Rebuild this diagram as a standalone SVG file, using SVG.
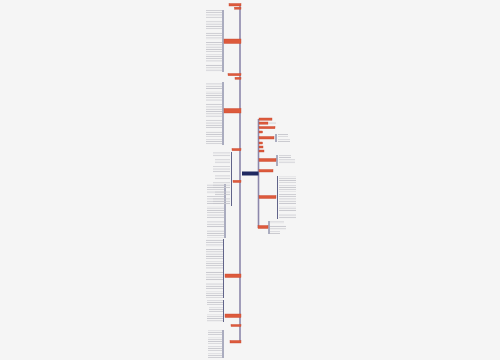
<svg xmlns="http://www.w3.org/2000/svg" width="500" height="360" viewBox="0 0 500 360">
<style>
.trunk{stroke:#8c87ab;stroke-width:1.6;fill:none}
.br{stroke:#3b3f6e;stroke-width:0.8;fill:none}
.n{fill:#dd5a3c;stroke:#c9472d;stroke-width:0.4}
.t{fill:url(#txt)}
</style>
<defs>
<pattern id="txt" width="30" height="2.3" patternUnits="userSpaceOnUse">
<rect x="0" y="0.7" width="30" height="0.8" fill="#c6c6cc"/>
</pattern>
</defs>
<rect width="500" height="360" fill="#f5f5f5"/>
<g id="connectors">
<line class="trunk" x1="240" y1="5" x2="240" y2="343"/>
<line class="trunk" x1="258.5" y1="119" x2="258.5" y2="228"/>
<line class="br" x1="223" y1="10" x2="223" y2="72"/>
<line class="br" x1="223" y1="82" x2="223" y2="145"/>
<line class="br" x1="231.5" y1="152" x2="231.5" y2="206"/>
<line class="br" x1="225" y1="184" x2="225" y2="238"/>
<line class="br" x1="223.5" y1="239" x2="223.5" y2="298"/>
<line class="br" x1="223.5" y1="300" x2="223.5" y2="322"/>
<line class="br" x1="223" y1="330" x2="223" y2="358"/>
<line class="br" x1="276" y1="134" x2="276" y2="142"/>
<line class="br" x1="277" y1="155" x2="277" y2="166"/>
<line class="br" x1="277.5" y1="176" x2="277.5" y2="219"/>
<line class="br" x1="269" y1="221" x2="269" y2="234"/>
</g>
<g id="center"><rect x="242" y="171.5" width="16.5" height="4" fill="#1e2860"/></g>
<g id="L1"><rect class="n" x="229" y="3.5" width="12" height="2.5"/></g>
<g id="L2"><rect class="n" x="234.5" y="7.2" width="6.5" height="2"/></g>
<g id="L3"><rect class="n" x="224" y="39" width="17" height="4.5"/>
<rect class="t" x="206" y="10" width="16" height="8"/><rect class="t" x="206" y="20" width="16" height="10"/><rect class="t" x="206" y="32" width="16" height="8"/><rect class="t" x="206" y="42" width="16" height="10"/><rect class="t" x="206" y="54" width="16" height="8"/><rect class="t" x="206" y="64" width="16" height="8"/></g>
<g id="L4"><rect class="n" x="228" y="73.5" width="13" height="2.2"/></g>
<g id="L5"><rect class="n" x="235" y="77.3" width="6" height="2"/></g>
<g id="L6"><rect class="n" x="224" y="108.5" width="17" height="4.5"/>
<rect class="t" x="206" y="82" width="16" height="7"/><rect class="t" x="206" y="91" width="16" height="10"/><rect class="t" x="206" y="103" width="16" height="14"/><rect class="t" x="206" y="119" width="16" height="10"/><rect class="t" x="206" y="131" width="16" height="6"/><rect class="t" x="206" y="139" width="16" height="6"/></g>
<g id="L7"><rect class="n" x="232" y="148.5" width="9" height="2.2"/>
<rect class="t" x="213" y="152" width="17" height="5"/><rect class="t" x="215" y="159" width="15" height="5"/><rect class="t" x="213" y="166" width="17" height="7"/><rect class="t" x="215" y="175" width="15" height="5"/><rect class="t" x="213" y="182" width="17" height="7"/><rect class="t" x="215" y="191" width="15" height="5"/><rect class="t" x="213" y="198" width="17" height="7"/></g>
<g id="L8"><rect class="n" x="233" y="180.3" width="8" height="2.2"/>
<rect class="t" x="207" y="184" width="17" height="10"/><rect class="t" x="207" y="196" width="17" height="8"/><rect class="t" x="207" y="206" width="17" height="12"/><rect class="t" x="207" y="220" width="17" height="8"/><rect class="t" x="207" y="230" width="17" height="8"/></g>
<g id="L9"><rect class="n" x="225" y="274" width="16" height="3.5"/>
<rect class="t" x="206" y="239" width="17" height="8"/><rect class="t" x="206" y="249" width="17" height="10"/><rect class="t" x="206" y="261" width="17" height="8"/><rect class="t" x="206" y="271" width="17" height="10"/><rect class="t" x="206" y="283" width="17" height="6"/><rect class="t" x="206" y="291" width="17" height="7"/></g>
<g id="L10"><rect class="n" x="225" y="314" width="16" height="3.5"/>
<rect class="t" x="207" y="300" width="16" height="5"/><rect class="t" x="209" y="307" width="14" height="5"/><rect class="t" x="207" y="314" width="16" height="8"/></g>
<g id="L11"><rect class="n" x="231" y="324.5" width="10" height="2"/></g>
<g id="L12"><rect class="n" x="230" y="340.5" width="11" height="2.5"/>
<rect class="t" x="208" y="330" width="14" height="5"/><rect class="t" x="208" y="337" width="14" height="7"/><rect class="t" x="208" y="346" width="14" height="5"/><rect class="t" x="208" y="353" width="14" height="5"/></g>
<g id="R1"><rect class="n" x="259" y="118" width="13" height="2.2"/></g>
<g id="R2"><rect class="n" x="259" y="122" width="9" height="2.2"/><rect class="t" x="269" y="122" width="7" height="2.3"/></g>
<g id="R3"><rect class="n" x="259" y="126.5" width="16" height="2.2"/></g>
<g id="R4"><rect class="n" x="259" y="131" width="3.5" height="2"/></g>
<g id="R5"><rect class="n" x="259" y="136.5" width="15" height="2.5"/><rect class="t" x="278" y="134" width="10" height="3"/><rect class="t" x="278" y="139" width="12" height="3"/></g>
<g id="R6"><rect class="n" x="259" y="142" width="3.5" height="2"/></g>
<g id="R7"><rect class="n" x="259" y="146" width="4" height="2"/></g>
<g id="R8"><rect class="n" x="259" y="150" width="5" height="2"/></g>
<g id="R9"><rect class="n" x="259" y="158.5" width="17" height="3"/><rect class="t" x="279" y="155" width="12" height="3"/><rect class="t" x="279" y="159" width="16" height="5"/></g>
<g id="R10"><rect class="n" x="259" y="169.5" width="14" height="2.5"/></g>
<g id="R11"><rect class="n" x="259" y="195.5" width="17" height="3"/>
<rect class="t" x="279" y="176" width="17" height="7"/><rect class="t" x="279" y="185" width="17" height="7"/><rect class="t" x="279" y="194" width="17" height="10"/><rect class="t" x="279" y="206" width="17" height="6"/><rect class="t" x="279" y="214" width="17" height="5"/></g>
<g id="R12"><rect class="n" x="258" y="225.5" width="10" height="3"/><rect class="t" x="270" y="221" width="14" height="3"/><rect class="t" x="270" y="225" width="16" height="5"/><rect class="t" x="270" y="231" width="10" height="3"/></g>
</svg>
